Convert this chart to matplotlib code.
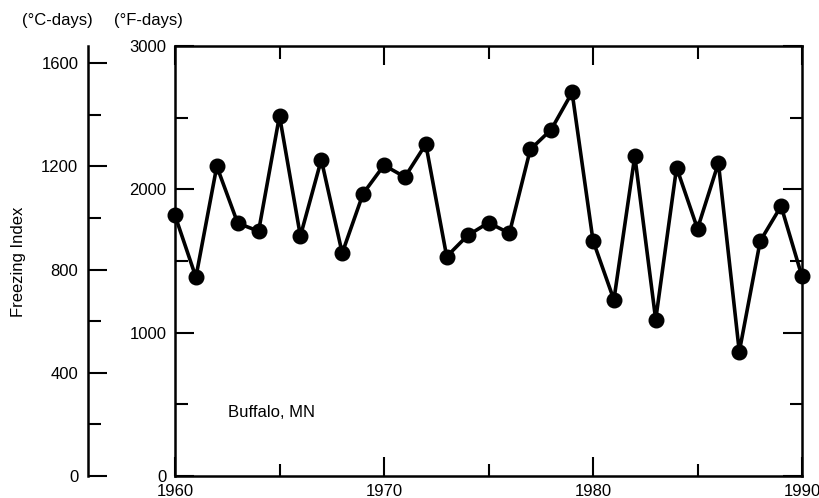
import matplotlib
matplotlib.use("Agg")
import matplotlib.pyplot as plt
from matplotlib.ticker import MultipleLocator

plt.rcParams['font.family'] = ['Liberation Sans', 'DejaVu Sans']

years = list(range(1960, 1991))
freezing_index_f = [1818, 1387, 2161, 1764, 1708, 2513, 1674, 2207, 1555, 1970,
                    2168, 2086, 2315, 1531, 1678, 1767, 1694, 2278, 2417, 2676,
                    1643, 1229, 2233, 1091, 2152, 1725, 2184, 867, 1639, 1883,
                    1392]
f_ticks = [0, 1000, 2000, 3000]
c_ticks = [0, 400, 800, 1200, 1600]
x_ticks = [1960, 1970, 1980, 1990]
site_label = "Buffalo, MN"

FS = 12
W, H = 820, 498
fig = plt.figure(figsize=(W / 100, H / 100), dpi=100)

left, right, top, bottom = 175, 802, 46, 476
ax = fig.add_axes([left / W, (H - bottom) / H, (right - left) / W, (bottom - top) / H])

ax.plot(years, freezing_index_f, color='black', lw=2.6, marker='o', ms=10.5,
        markerfacecolor='black', markeredgecolor='black', clip_on=False, zorder=3)

ax.set_xlim(1960, 1990)
ax.set_ylim(0, 3000)
ax.set_xticks(x_ticks)
ax.set_yticks(f_ticks)
ax.xaxis.set_minor_locator(MultipleLocator(5))
ax.yaxis.set_minor_locator(MultipleLocator(500))
ax.tick_params(which='both', direction='in', top=True, right=True, width=1.5,
               labelsize=FS, pad=6)
ax.tick_params(which='major', length=13.5)
ax.tick_params(which='minor', length=9)
ax.tick_params(axis='x', pad=6)
for s in ax.spines.values():
    s.set_linewidth(1.8)

ax.text((228 - left) / (right - left), (bottom - 412) / (bottom - top), site_label,
        transform=ax.transAxes, fontsize=FS, ha='left', va='center')

# Celsius-days axis
cx = 88
axc = fig.add_axes([cx / W, (H - bottom) / H, 0.0001, (bottom - top) / H])
axc.set_ylim(0, 3000 * 5 / 9)
axc.set_yticks(c_ticks)
axc.yaxis.set_minor_locator(MultipleLocator(200))
axc.set_xticks([])
for k in ('top', 'right', 'bottom'):
    axc.spines[k].set_visible(False)
axc.spines['left'].set_linewidth(1.8)
axc.patch.set_visible(False)
axc.tick_params(which='both', direction='in', width=1.5, labelsize=FS, pad=7)
axc.tick_params(which='major', length=13.5)
axc.tick_params(which='minor', length=9)

fig.text(19 / W, 1 - 262 / H, "Freezing Index", fontsize=FS, rotation=90,
         ha='center', va='center')
fig.text(57 / W, 1 - 20 / H, "(°C-days)", fontsize=FS, ha='center', va='center')
fig.text(148 / W, 1 - 20 / H, "(°F-days)", fontsize=FS, ha='center', va='center')

fig.savefig("out.png", dpi=100)
